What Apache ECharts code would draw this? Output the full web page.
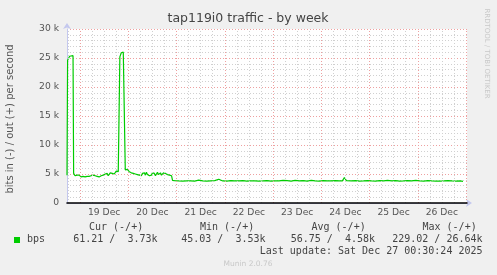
<!DOCTYPE html>
<html>
<head>
<meta charset="utf-8">
<script src="https://cdn.jsdelivr.net/npm/echarts@6/dist/echarts.min.js"></script>
<style>html,body{margin:0;padding:0;background:#f0f0f0;}#c{width:497px;height:275px;}</style>
</head>
<body>
<div id="c"></div>
<script>
// Time in hours relative to 19 Dec 00:00
const xMin = -6.5;
const xMax = 192.5;
const dayLabels = ['19 Dec', '20 Dec', '21 Dec', '22 Dec', '23 Dec', '24 Dec', '25 Dec', '26 Dec'];
const labelHours = [12, 36, 60, 84, 108, 132, 156, 180];
const majorHours = [0, 24, 48, 72, 96, 120, 144, 168, 192];
const minorHours = [-6, 6, 12, 18, 30, 36, 42, 54, 60, 66, 78, 84, 90, 102, 108, 114, 126, 132, 138, 150, 156, 162, 174, 180, 186];

const outHours = [
  -6.5, -6.2, -5.2, -3.5, -3.2, -2.5, -2, -1.5, -1, -0.5, 0, 0.5, 1, 1.5, 2, 2.5, 3, 3.5, 4, 4.5,
  5, 5.5, 6, 6.5, 7, 7.5, 8, 8.5, 9, 9.5, 10, 10.5, 11, 11.5, 12, 12.5, 13, 13.5, 14, 14.5,
  15, 15.5, 16, 16.5, 17, 17.5, 18, 18.5, 19, 19.5, 19.8, 20.5, 21.5, 22.2, 22.5, 23, 23.5, 24, 24.5, 25,
  25.5, 26, 26.5, 27, 27.5, 28, 28.5, 29, 29.5, 30, 30.5, 31, 31.5, 32, 32.5, 33, 33.5, 34, 34.5, 35,
  35.5, 36, 36.5, 37, 37.5, 38, 38.5, 39, 39.5, 40, 40.5, 41, 41.5, 42, 42.5, 43, 43.5, 44, 44.5, 45, 45.5, 46,
  47, 49, 51, 53, 55, 57, 59, 61, 63, 65, 67, 69, 71, 73, 75, 77, 79, 81, 83, 85,
  87, 89, 91, 93, 95, 97, 99, 101, 103, 105, 107, 109, 111, 113, 115, 117, 119, 121, 123, 125,
  127, 129, 130.5, 131.5, 132.5, 133, 135, 137, 139, 141, 143, 145, 147, 149, 151, 153, 155, 157, 159, 161,
  163, 165, 167, 169, 171, 173, 175, 177, 179, 181, 183, 185, 187, 189, 190.5
];
const outBps = [
  4800, 24600, 25300, 25400, 5100, 4700, 4900, 4800, 4600, 4800, 4700, 4500, 4700, 4600, 4800, 4500, 4700, 4600, 4800, 4600,
  4500, 4700, 4600, 4800, 4500, 4700, 4800, 4600, 4700, 4500, 4800, 4700, 4600, 4800, 4700, 5000, 4800, 5100, 4700, 4900,
  5200, 5500, 5100, 5300, 5000, 5200, 5500, 5300, 5400, 5300, 25200, 25900, 26000, 25700, 5700, 5400, 5800, 5600, 5400, 5500,
  5200, 5400, 5100, 5300, 5000, 5200, 4900, 5100, 4800, 5000, 4700, 5100, 4900, 5200, 4800, 5300, 4900, 5100, 4700, 5000,
  4800, 5200, 4900, 5100, 4700, 5000, 5300, 4900, 5100, 5200, 4800, 5000, 5200, 4900, 5100, 5300, 4900, 5200, 4800, 5000, 4700, 3900,
  3850, 3800, 3780, 3800, 3820, 3780, 3950, 3800, 3780, 3820, 3850, 4100, 3800, 3780, 3850, 3800, 3800, 3850, 3780, 3800,
  3820, 3780, 3800, 3850, 3780, 3800, 3820, 3900, 3850, 3780, 3900, 3800, 3850, 3780, 3900, 3800, 3780, 3850, 3800, 3800,
  3850, 3820, 3820, 4400, 3850, 3850, 3800, 3850, 3780, 3800, 3850, 3800, 3780, 3850, 3800, 3900, 3800, 3850, 3780, 3800,
  3850, 3800, 3900, 3800, 3780, 3850, 3800, 3780, 3780, 3800, 3850, 3800, 3780, 3800, 3730
];

const legendHeaders = ['Cur (-/+)', 'Min (-/+)', 'Avg (-/+)', 'Max (-/+)'];
const legendStats = ['61.21 /  3.73k', '45.03 /  3.53k', '56.75 /  4.58k', '229.02 / 26.64k'];
const seriesName = 'bps';
const lastUpdate = 'Last update: Sat Dec 27 00:30:24 2025';

const chart = echarts.init(document.getElementById('c'), null, {renderer: 'canvas'});
const outData = outHours.map((h, i) => [h, outBps[i]]);
const headerX = [89, 200, 311.5, 422.5];
const statsRight = [157.5, 265.5, 375, 482.5];
const mono = 'DejaVu Sans Mono';

const graphics = [
  {type: 'text', x: 248, y: 18.5, style: {text: 'tap119i0 traffic - by week', font: '12.5px "DejaVu Sans"', fill: '#444', align: 'center', verticalAlign: 'middle'}},
  {type: 'text', x: 10, y: 119, rotation: Math.PI / 2, style: {text: 'bits in (-) / out (+) per second', font: '10px "DejaVu Sans"', fill: '#555', align: 'center', verticalAlign: 'middle'}},
  {type: 'text', x: 487, y: 53.5, rotation: -Math.PI / 2, style: {text: 'RRDTOOL / TOBI OETIKER', font: '7px "DejaVu Sans"', fill: '#c8c8c8', align: 'center', verticalAlign: 'middle'}},
  {type: 'rect', shape: {x: 14, y: 237, width: 6, height: 6}, style: {fill: '#00cc00'}},
  {type: 'text', x: 27, y: 239.5, style: {text: seriesName, font: '10px "' + mono + '"', fill: '#444', align: 'left', verticalAlign: 'middle'}},
  {type: 'text', x: 482.5, y: 251, style: {text: lastUpdate, font: '10px "' + mono + '"', fill: '#444', align: 'right', verticalAlign: 'middle'}},
  {type: 'text', x: 248, y: 264.5, style: {text: 'Munin 2.0.76', font: '7.5px "DejaVu Sans"', fill: '#c8c8c8', align: 'center', verticalAlign: 'middle'}}
];
legendHeaders.forEach((t, i) => graphics.push({type: 'text', x: headerX[i], y: 227.7, style: {text: t, font: '10px "' + mono + '"', fill: '#444', align: 'left', verticalAlign: 'middle'}}));
legendStats.forEach((t, i) => graphics.push({type: 'text', x: statsRight[i], y: 239.5, style: {text: t, font: '10px "' + mono + '"', fill: '#444', align: 'right', verticalAlign: 'middle'}}));

const dash = [1, 2];
chart.setOption({
  animation: false,
  backgroundColor: '#f0f0f0',
  grid: {left: 67, right: 30, top: 29, bottom: 72, show: true, backgroundColor: '#ffffff', borderWidth: 0, containLabel: false},
  xAxis: [
    {
      type: 'value', min: xMin, max: xMax, z: 5,
      axisLine: {show: true, onZero: false, lineStyle: {color: '#000', width: 1.5}},
      axisTick: {show: false},
      splitLine: {show: false},
      axisLabel: {
        customValues: labelHours,
        margin: 5,
        color: '#555',
        fontFamily: 'DejaVu Sans',
        fontSize: 9.2,
        formatter: v => dayLabels[labelHours.indexOf(v)] || ''
      }
    },
    {
      type: 'value', min: xMin, max: xMax, position: 'bottom', z: 4,
      axisLine: {show: true, onZero: false, symbol: ['none', 'arrow'], symbolSize: [6, 6], symbolOffset: [0, 5], lineStyle: {color: '#c4c8ee', width: 1}},
      axisTick: {show: false}, axisLabel: {show: false}, splitLine: {show: false}
    }
  ],
  yAxis: {
    type: 'value', min: 0, max: 30000, interval: 5000,
    axisLine: {show: true, onZero: false, symbol: ['none', 'arrow'], symbolSize: [6, 6], symbolOffset: [0, 6], lineStyle: {color: '#c4c8ee', width: 1}},
    axisTick: {show: false},
    axisLabel: {margin: 8, color: '#555', fontFamily: 'DejaVu Sans', fontSize: 9.2, formatter: v => (v === 0 ? '0' : (v / 1000) + ' k')},
    splitLine: {show: true, lineStyle: {color: '#eea0a0', type: dash, width: 1}},
    minorTick: {show: false, splitNumber: 5},
    minorSplitLine: {show: true, lineStyle: {color: '#d0d0d0', type: dash, width: 1}}
  },
  series: [
    {
      type: 'line', data: [], z: 1, silent: true,
      markLine: {
        silent: true, symbol: 'none', label: {show: false}, animation: false,
        data: minorHours.map(h => ({xAxis: h, lineStyle: {color: '#d0d0d0', type: dash, width: 1}}))
          .concat(majorHours.map(h => ({xAxis: h, lineStyle: {color: '#eea0a0', type: dash, width: 1}})))
      }
    },
    {
      name: seriesName, type: 'line', data: outData, z: 3,
      showSymbol: false, symbol: 'none', smooth: false,
      lineStyle: {color: '#00cc00', width: 1.2},
      itemStyle: {color: '#00cc00'}
    }
  ],
  graphic: graphics
});
</script>
</body>
</html>
